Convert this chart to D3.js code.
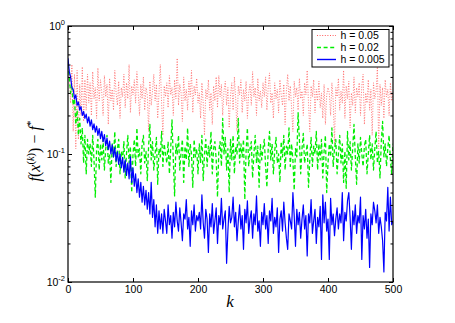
<!DOCTYPE html>
<html><head><meta charset="utf-8">
<script src="https://cdn.jsdelivr.net/npm/d3@7"></script>
<style>body{margin:0;background:#fff;} svg{display:block;}</style>
</head><body><svg id="c" width="455" height="323"></svg>
<script>
// iterations k = 0, 2, 4, ..., 500
const kStep = 2;
const labels = ["h = 0.05", "h = 0.02", "h = 0.005"];
const xTicks = [0, 100, 200, 300, 400, 500];
const yDecades = [1e-2, 1e-1, 1e0];
const yExponents = ["-2", "-1", "0"];

const h005 = [ // h = 0.05 (red dotted)
0.5,0.45,0.25,0.5,0.15,0.42,0.11,0.45,0.13,0.35,0.2,0.48,0.18,0.38,0.22,0.42,0.25,0.36,0.2,0.44,0.27,0.33,0.19,0.47,0.26,
0.38,0.3,0.2,0.41,0.28,0.35,0.17,0.39,0.26,0.32,0.22,0.45,0.3,0.24,0.37,0.19,0.33,0.28,0.42,0.23,0.36,0.27,0.5,0.21,0.34,
0.29,0.38,0.25,0.44,0.3,0.2,0.35,0.27,0.4,0.22,0.33,0.29,0.15,0.37,0.24,0.31,0.42,0.26,0.35,0.19,0.3,0.5,0.25,0.14,0.34,
0.28,0.36,0.23,0.41,0.29,0.33,0.2,0.38,0.27,0.56,0.24,0.35,0.3,0.18,0.4,0.26,0.32,0.22,0.37,0.28,0.45,0.21,0.34,0.29,0.39,
0.25,0.3,0.19,0.36,0.25,0.14,0.32,0.27,0.38,0.22,0.3,0.17,0.34,0.26,0.4,0.23,0.41,0.28,0.35,0.2,0.31,0.37,0.24,0.33,0.16,
0.29,0.36,0.22,0.4,0.27,0.15,0.34,0.29,0.38,0.21,0.32,0.26,0.37,0.19,0.3,0.35,0.24,0.44,0.28,0.33,0.2,0.39,0.26,0.31,0.23,
0.36,0.28,0.4,0.22,0.33,0.43,0.25,0.3,0.19,0.36,0.27,0.32,0.21,0.38,0.29,0.24,0.35,0.17,0.31,0.42,0.26,0.34,0.23,0.15,0.37,
0.28,0.33,0.22,0.39,0.27,0.31,0.2,0.36,0.29,0.45,0.25,0.15,0.34,0.28,0.38,0.21,0.32,0.26,0.37,0.23,0.3,0.19,0.35,0.17,0.29,
0.33,0.3,0.2,0.36,0.26,0.12,0.33,0.28,0.39,0.22,0.31,0.25,0.45,0.19,0.34,0.27,0.37,0.16,0.3,0.24,0.4,0.21,0.33,0.28,0.36,
0.2,0.34,0.42,0.17,0.3,0.25,0.38,0.22,0.32,0.14,0.36,0.27,0.31,0.48,0.11,0.35,0.24,0.33,0.19,0.38,0.28,0.32,0.2,0.36,0.26,
0.3];

const h002 = [ // h = 0.02 (green dashed)
0.5,0.4,0.3,0.33,0.24,0.27,0.17,0.22,0.14,0.19,0.12,0.16,0.085,0.14,0.07,0.13,0.1,0.12,0.08,0.14,0.09,0.046,0.11,0.13,0.075,
0.12,0.09,0.13,0.075,0.11,0.14,0.085,0.1,0.06,0.12,0.095,0.15,0.08,0.11,0.13,0.07,0.105,0.09,0.125,0.065,0.1,0.14,0.085,0.115,0.05,
0.1,0.13,0.08,0.16,0.095,0.11,0.07,0.12,0.14,0.085,0.105,0.062,0.115,0.17,0.09,0.125,0.075,0.1,0.135,0.058,0.11,0.095,0.15,0.08,0.12,
0.1,0.085,0.125,0.07,0.11,0.185,0.09,0.047,0.12,0.1,0.14,0.075,0.105,0.13,0.06,0.115,0.09,0.16,0.08,0.12,0.1,0.055,0.13,0.095,0.11,
0.07,0.12,0.085,0.14,0.062,0.1,0.13,0.08,0.115,0.095,0.15,0.07,0.11,0.125,0.09,0.046,0.105,0.125,0.08,0.19,0.1,0.135,0.075,0.11,0.05,
0.13,0.09,0.14,0.07,0.115,0.1,0.19,0.085,0.12,0.095,0.13,0.044,0.105,0.16,0.08,0.11,0.125,0.065,0.1,0.14,0.085,0.115,0.055,0.12,0.09,
0.11,0.13,0.08,0.055,0.11,0.15,0.09,0.12,0.07,0.105,0.135,0.085,0.1,0.06,0.125,0.095,0.14,0.075,0.115,0.1,0.16,0.08,0.12,0.09,0.052,
0.11,0.095,0.21,0.13,0.07,0.11,0.145,0.085,0.1,0.12,0.055,0.09,0.135,0.08,0.115,0.1,0.15,0.075,0.12,0.09,0.13,0.065,0.105,0.14,0.05,
0.085,0.12,0.095,0.16,0.08,0.11,0.13,0.07,0.1,0.14,0.085,0.12,0.06,0.105,0.054,0.15,0.09,0.125,0.075,0.11,0.17,0.095,0.058,0.12,0.085,
0.135,0.1,0.08,0.115,0.13,0.07,0.1,0.14,0.09,0.12,0.075,0.11,0.15,0.085,0.105,0.065,0.125,0.18,0.095,0.12,0.08,0.11,0.14,0.09,0.07,
0.12];

const h0005 = [ // h = 0.005 (blue solid)
0.56,0.44,0.4,0.33,0.32,0.27,0.29,0.24,0.255,0.22,0.235,0.2,0.215,0.19,0.205,0.175,0.195,0.165,0.185,0.155,0.172,0.148,0.165,0.14,0.158,
0.132,0.15,0.125,0.142,0.116,0.133,0.108,0.126,0.1,0.118,0.095,0.112,0.088,0.104,0.083,0.1,0.078,0.094,0.072,0.09,0.068,0.085,0.064,0.095,0.06,
0.078,0.056,0.07,0.05,0.064,0.046,0.06,0.042,0.056,0.04,0.052,0.037,0.05,0.034,0.06,0.032,0.044,0.027,0.04,0.024,0.036,0.026,0.034,0.024,0.037,
0.03,0.024,0.04,0.028,0.033,0.022,0.035,0.027,0.042,0.03,0.025,0.038,0.029,0.021,0.034,0.031,0.044,0.026,0.032,0.019,0.036,0.028,0.04,0.025,0.033,
0.03,0.035,0.026,0.048,0.029,0.022,0.037,0.031,0.017,0.034,0.027,0.041,0.024,0.03,0.038,0.02,0.033,0.028,0.045,0.026,0.031,0.036,0.014,0.025,0.039,
0.029,0.032,0.046,0.027,0.035,0.021,0.03,0.04,0.026,0.033,0.018,0.037,0.029,0.043,0.024,0.031,0.036,0.022,0.034,0.028,0.047,0.025,0.03,0.019,0.035,
0.028,0.041,0.026,0.033,0.02,0.036,0.03,0.045,0.024,0.032,0.027,0.038,0.017,0.031,0.036,0.025,0.042,0.029,0.022,0.018,0.034,0.03,0.026,0.05,0.033,
0.019,0.037,0.028,0.035,0.022,0.031,0.04,0.026,0.033,0.016,0.034,0.029,0.044,0.024,0.03,0.037,0.02,0.032,0.027,0.039,0.015,0.048,0.029,0.042,0.025,
0.031,0.015,0.045,0.028,0.034,0.023,0.031,0.038,0.026,0.034,0.029,0.05,0.021,0.035,0.03,0.043,0.05,0.032,0.018,0.036,0.028,0.04,0.024,0.033,0.029,
0.046,0.015,0.033,0.026,0.037,0.022,0.031,0.013,0.034,0.028,0.042,0.036,0.029,0.04,0.024,0.032,0.027,0.021,0.012,0.035,0.03,0.055,0.025,0.046,0.028,
0.03];

const seriesData = [h005, h002, h0005];
const colors = ["#ff5a5a", "#00ee00", "#0000ff"];
const widths = [0.8, 1.3, 1.2];
const dashes = ["1,1.6", "4,2.6", null];

const L = 68, R = 393, T = 26, B = 282;
const svg = d3.select("#c");
const x = d3.scaleLinear().domain([0, 500]).range([L, R]);
const y = d3.scaleLog().domain([1e-2, 1]).range([B, T]);

svg.append("defs").append("clipPath").attr("id", "clip")
  .append("rect").attr("x", L).attr("y", T).attr("width", R - L).attr("height", B - T);

const line = d3.line().x((d, i) => x(i * kStep)).y(d => y(d));
const g = svg.append("g").attr("clip-path", "url(#clip)");
seriesData.forEach((s, i) => {
  g.append("path").datum(s).attr("d", line)
    .attr("fill", "none").attr("stroke", colors[i]).attr("stroke-width", widths[i])
    .attr("stroke-dasharray", dashes[i]).attr("stroke-linejoin", "round");
});

// minor ticks
const minor = [];
[1e-2, 1e-1].forEach(d => { for (let m = 2; m <= 9; m++) minor.push(d * m); });

function styleAxis(sel) {
  sel.select(".domain").remove();
  sel.selectAll(".tick line").attr("stroke", "#000").attr("stroke-width", 1);
}
svg.append("g").attr("transform", `translate(0,${B})`)
  .call(d3.axisBottom(x).tickValues(xTicks).tickSizeInner(-4).tickSizeOuter(0).tickPadding(4).tickFormat(d3.format("d")))
  .call(styleAxis)
  .call(s => s.selectAll("text").attr("font-family", "Liberation Sans, Arial, sans-serif").attr("font-size", 10.5).attr("fill", "#000"));
svg.append("g").attr("transform", `translate(0,${T})`)
  .call(d3.axisTop(x).tickValues(xTicks).tickSizeInner(-4).tickSizeOuter(0).tickFormat(""))
  .call(styleAxis);
[[d3.axisLeft, L], [d3.axisRight, R]].forEach(([ax, pos]) => {
  svg.append("g").attr("transform", `translate(${pos},0)`)
    .call(ax(y).tickValues(yDecades).tickSizeInner(-4).tickSizeOuter(0).tickFormat(""))
    .call(styleAxis);
  svg.append("g").attr("transform", `translate(${pos},0)`)
    .call(ax(y).tickValues(minor).tickSizeInner(-2.5).tickSizeOuter(0).tickFormat(""))
    .call(styleAxis);
});

// frame
svg.append("rect").attr("x", L).attr("y", T).attr("width", R - L).attr("height", B - T)
  .attr("fill", "none").attr("stroke", "#000").attr("stroke-width", 1.2);

// y tick labels
yDecades.forEach((d, i) => {
  const t = svg.append("text").attr("x", 65).attr("y", y(d) + 3.8)
    .attr("text-anchor", "end").attr("font-family", "Liberation Sans, Arial, sans-serif")
    .attr("font-size", 10.5).attr("fill", "#000");
  t.append("tspan").text("10");
  t.append("tspan").attr("dy", -5).attr("font-size", 7.5).text(yExponents[i]);
});

// axis labels
svg.append("text").attr("x", 230).attr("y", 307).attr("text-anchor", "middle")
  .attr("font-family", "Liberation Serif, serif").attr("font-style", "italic")
  .attr("font-size", 17).text("k");

const yl = svg.append("text").attr("transform", "translate(40,151) rotate(-90)")
  .attr("text-anchor", "middle").attr("font-family", "Liberation Serif, serif")
  .attr("font-size", 16).attr("fill", "#000");
yl.append("tspan").attr("font-style", "italic").text("f");
yl.append("tspan").text("(");
yl.append("tspan").attr("font-style", "italic").text("x");
yl.append("tspan").attr("dy", -6).attr("font-size", 10.5).text("(");
yl.append("tspan").attr("font-size", 10.5).attr("font-style", "italic").text("k");
yl.append("tspan").attr("font-size", 10.5).text(")");
yl.append("tspan").attr("dy", 6).text(") \u2212 ");
yl.append("tspan").attr("font-style", "italic").text("f");
yl.append("tspan").attr("dy", -6).attr("font-size", 11).text("*");

// legend
const lg = svg.append("g");
lg.append("rect").attr("x", 312).attr("y", 29.5).attr("width", 77).attr("height", 37.5)
  .attr("fill", "#fff").attr("stroke", "#000").attr("stroke-width", 1);
labels.forEach((lab, i) => {
  const yy = 35.5 + i * 12;
  lg.append("line").attr("x1", 317).attr("x2", 336).attr("y1", yy).attr("y2", yy)
    .attr("stroke", colors[i]).attr("stroke-width", widths[i] + 0.2).attr("stroke-dasharray", dashes[i]);
  lg.append("text").attr("x", 340.5).attr("y", yy + 3.6)
    .attr("font-family", "Liberation Sans, Arial, sans-serif").attr("font-size", 10.5).attr("fill", "#000")
    .text(lab);
});
</script>
</body></html>
